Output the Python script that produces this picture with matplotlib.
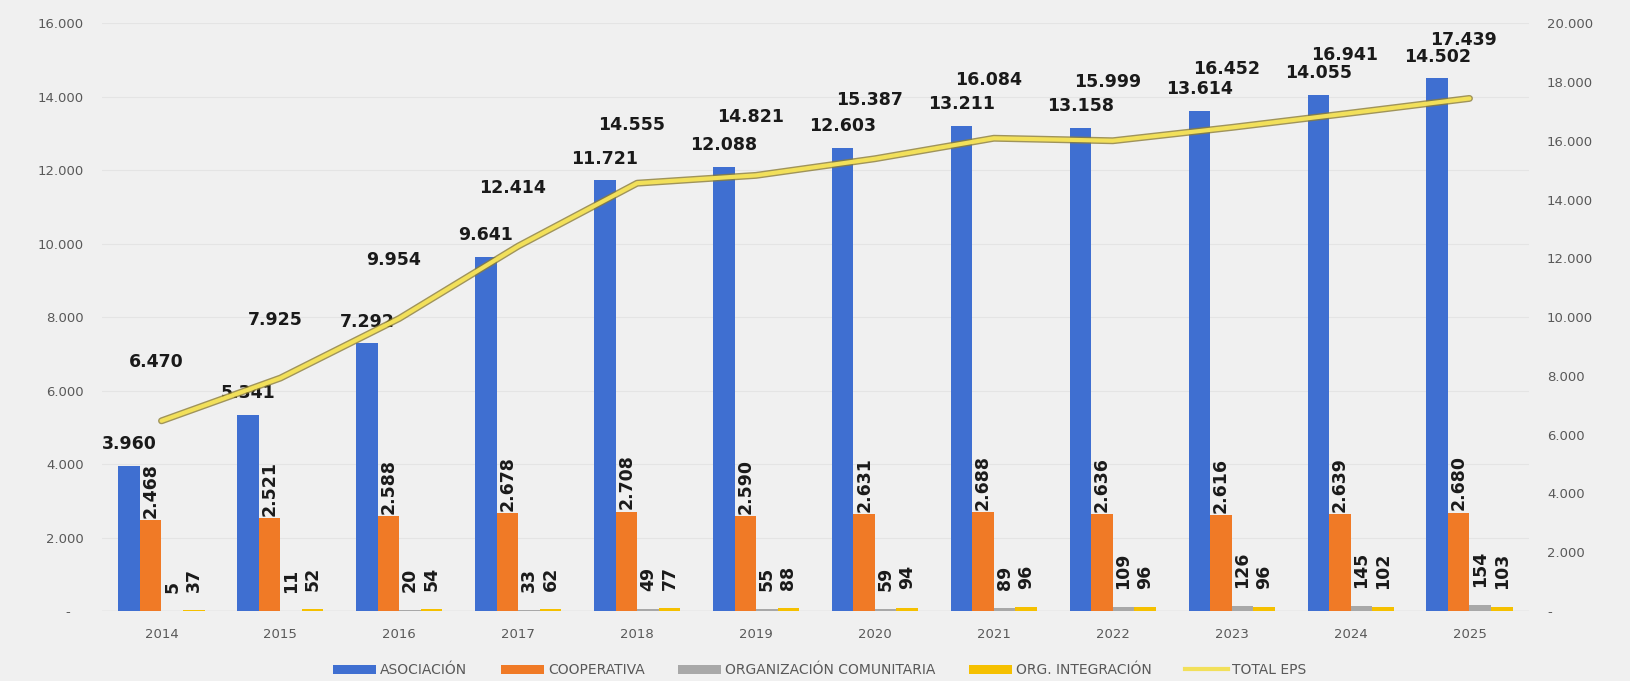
import matplotlib
matplotlib.use("Agg")
import matplotlib.pyplot as plt
import matplotlib.patheffects as pe
from matplotlib.lines import Line2D
from matplotlib.patches import Patch
import numpy as np

years = ["2014", "2015", "2016", "2017", "2018", "2019", "2020", "2021", "2022", "2023", "2024", "2025"]
asociacion = [3960, 5341, 7292, 9641, 11721, 12088, 12603, 13211, 13158, 13614, 14055, 14502]
cooperativa = [2468, 2521, 2588, 2678, 2708, 2590, 2631, 2688, 2636, 2616, 2639, 2680]
org_comunitaria = [5, 11, 20, 33, 49, 55, 59, 89, 109, 126, 145, 154]
org_integracion = [37, 52, 54, 62, 77, 88, 94, 96, 96, 96, 102, 103]
total_eps = [6470, 7925, 9954, 12414, 14555, 14821, 15387, 16084, 15999, 16452, 16941, 17439]

series_names = ["ASOCIACIÓN", "COOPERATIVA", "ORGANIZACIÓN COMUNITARIA", "ORG. INTEGRACIÓN"]
line_name = "TOTAL EPS"
colors = ["#3F6FD1", "#F07A26", "#A8A8A8", "#F5C000"]
line_color = "#F2E05A"

def fmt(v):
    return f"{v:,}".replace(",", ".")

bg = "#F0F0F0"
fig = plt.figure(figsize=(16.3, 6.81), dpi=100, facecolor=bg)
ax = fig.add_axes([0.0626, 0.1028, 0.8754, 0.8632])
ax.set_facecolor(bg)
ax2 = ax.twinx()

x = np.arange(len(years))
w = 0.181
data = [asociacion, cooperativa, org_comunitaria, org_integracion]
offs = [-1.5, -0.5, 0.5, 1.5]
for vals, c, o in zip(data, colors, offs):
    ax.bar(x + o * w, vals, width=w, color=c, zorder=3)

lbl_kw = dict(fontsize=12.5, fontweight="bold", color="#1a1a1a", family="DejaVu Sans")
for i in range(len(years)):
    ax.annotate(fmt(asociacion[i]), (x[i] - 1.5 * w, asociacion[i]), xytext=(0, 9),
                textcoords="offset points", ha="center", va="bottom", zorder=6, **lbl_kw)
    ax.annotate(fmt(cooperativa[i]), (x[i] - 0.5 * w, cooperativa[i]), xytext=(0, 1.5),
                textcoords="offset points", ha="center", va="bottom", rotation=90, zorder=6, **lbl_kw)
    ax.annotate(fmt(org_comunitaria[i]), (x[i] + 0.5 * w, org_comunitaria[i]), xytext=(0, 13),
                textcoords="offset points", ha="center", va="bottom", rotation=90, zorder=6, **lbl_kw)
    ax.annotate(fmt(org_integracion[i]), (x[i] + 1.5 * w, org_integracion[i]), xytext=(0, 13),
                textcoords="offset points", ha="center", va="bottom", rotation=90, zorder=6, **lbl_kw)

ax2.plot(x, total_eps, color=line_color, lw=3, zorder=5, solid_capstyle="round",
         path_effects=[pe.Stroke(linewidth=5, foreground="#8C7D35", alpha=0.8), pe.Normal()])
for i in range(len(years)):
    ax2.annotate(fmt(total_eps[i]), (x[i], total_eps[i]), xytext=(-4, 42),
                 textcoords="offset points", ha="center", va="center", zorder=6, **lbl_kw)

ax.set_xlim(-0.5, len(years) - 0.5)
ax.set_ylim(0, 16000)
ax2.set_ylim(0, 20000)
ax.set_yticks(np.arange(0, 16001, 2000))
ax.set_yticklabels(["-   "] + [fmt(v) for v in range(2000, 16001, 2000)])
ax2.set_yticks(np.arange(0, 20001, 2000))
ax2.set_yticklabels(["-"] + [fmt(v) for v in range(2000, 20001, 2000)])
ax.set_xticks(x)
ax.set_xticklabels(years)

for a in (ax, ax2):
    for s in a.spines.values():
        s.set_visible(False)
    a.tick_params(axis="both", length=0, labelsize=9.5, colors="#595959", pad=13)
ax.tick_params(axis="x", pad=12, labelsize=9.5)
ax.grid(axis="y", color="#E4E4E4", lw=0.8, zorder=0)
ax.axhline(0, color="#D6D6D6", lw=1, zorder=2)
ax.set_axisbelow(True)
ax2.set_zorder(ax.get_zorder() + 1)
ax2.patch.set_visible(False)

handles = [Patch(facecolor=c, edgecolor="none") for c in colors]
handles.append(Line2D([0], [0], color=line_color, lw=3))
fig.legend(handles, series_names + [line_name], loc="center", bbox_to_anchor=(0.503, 0.016),
           ncol=5, frameon=False, fontsize=10, handlelength=3.1, handleheight=0.6,
           handletextpad=0.3, columnspacing=2.4, labelcolor="#595959")

fig.savefig("out.png", dpi=100, facecolor=bg)
